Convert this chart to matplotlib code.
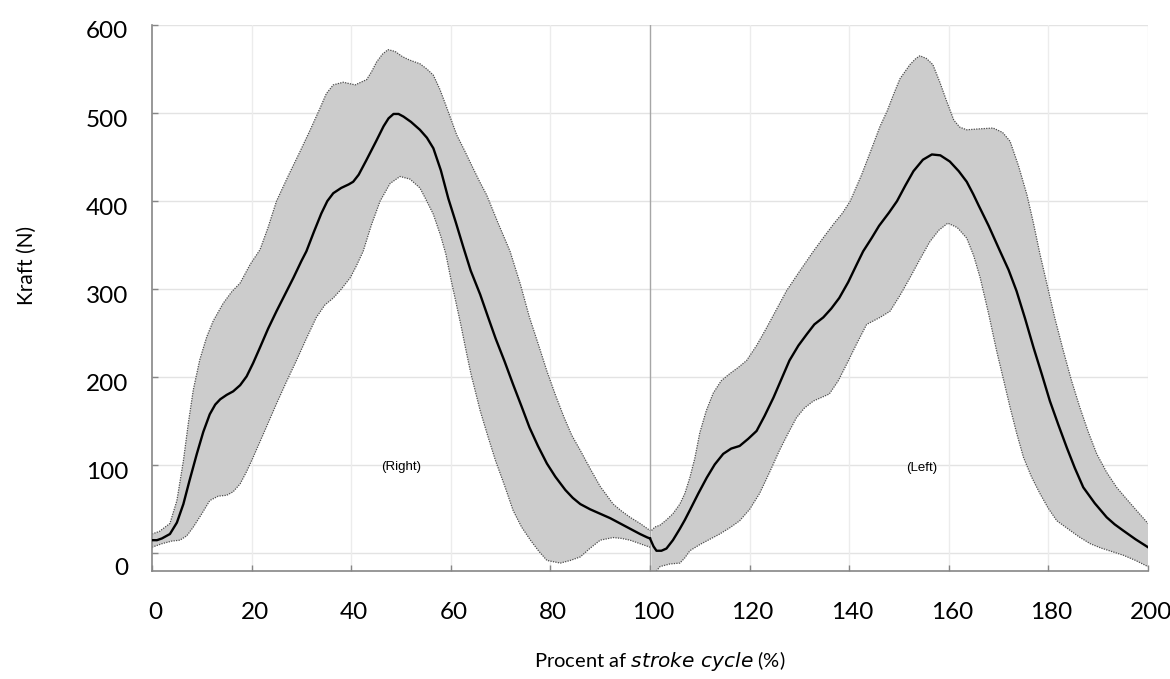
import matplotlib
matplotlib.use("Agg")
import matplotlib.pyplot as plt
import matplotlib.transforms as mtransforms
import numpy as np

# ---------------- data ----------------
# Right stroke (0-100 %)
right_mean_x = [0, 1, 2, 3.6, 5, 6.3, 7.5, 9, 10.3, 11.6, 12.7, 13.7, 15, 16.3, 17.7, 19, 20.3, 21.7, 23.3, 25,
                26.7, 28.4, 30, 31, 32.5, 34, 35.2, 36.4, 38, 39.5, 40.4, 41.5, 43, 44, 45, 46.5, 47.5, 48.5, 49.5,
                50.5, 52, 53.8, 55.2, 56.5, 58, 59.5, 61, 62.5, 64, 65.9, 67.5, 69, 70.8, 72.5, 74.2, 75.8, 77.5,
                79.3, 81, 83, 84.5, 86, 88, 90, 92, 94, 96, 98, 99.5, 100]
right_mean_y = [15, 15, 17, 22, 35, 56, 82, 113, 138, 158, 169, 175, 180, 184, 191, 201, 216, 234, 255, 275,
                294, 313, 332, 343, 365, 386, 400, 409, 415, 419, 422, 430, 446, 457, 468, 485, 494, 499, 499,
                496, 490, 481, 472, 460, 435, 403, 376, 348, 321, 294, 268, 244, 218, 192, 167, 143, 122,
                102, 87, 72, 63, 56, 50, 45, 40, 34, 28, 22, 18, 17]

right_upper_x = [0, 1.5, 3.6, 5, 6.3, 7.3, 8.3, 9.6, 11, 12.3, 14.3, 16, 17.7, 19.7, 21.7, 23.3, 25, 27.3, 29.7,
                 31.7, 33.7, 35, 36.4, 38.4, 40.8, 43.1, 44.1, 45.1, 46.3, 47.4, 48.8, 50.3, 51.8, 53.8, 55.2,
                 56.5, 57.8, 59, 60.1, 61.2, 62.8, 64.5, 65.8, 67.2, 69.5, 71.9, 74, 75.8, 77.6, 79.3, 81, 82.7,
                 84.3, 86, 88, 90, 92.6, 94.3, 96, 98, 100]
right_upper_y = [22, 25, 34, 60, 105, 148, 186, 220, 246, 264, 284, 297, 307, 328, 345, 370, 400, 428, 456,
                 480, 505, 522, 532, 535, 532, 538, 547, 558, 567, 572, 570, 564, 560, 556, 550,
                 543, 527, 509, 492, 475, 457, 437, 422, 407, 375, 343, 305, 268, 237, 207, 180, 155,
                 134, 117, 96, 76, 56, 48, 41, 34, 26]

right_lower_x = [0, 2, 4, 5.6, 7, 8.3, 10, 11.6, 13.3, 15, 16.3, 17.7, 19, 20.3, 22.7, 25, 27, 29, 31, 33, 34.7,
                 36.4, 38, 39.8, 41, 42.4, 44, 45.8, 47.8, 49.8, 51.8, 53.8, 55, 56.5, 58, 59, 60, 61, 62, 63,
                 64, 65.9, 67.5, 69, 70.8, 72.5, 74.2, 76, 77.6, 79.3, 82, 84, 86, 88, 90, 92.6, 94.3, 96, 98,
                 100]
right_lower_y = [7, 11, 14, 15, 20, 30, 45, 60, 65, 66, 70, 79, 93, 109, 140, 170, 195, 219, 244, 268, 282,
                 290, 300, 313, 326, 343, 372, 400, 420, 428, 425, 415, 402, 385, 360, 340, 312, 286, 260, 232,
                 205, 162, 132, 105, 77, 49, 30, 15, 3, -8, -11, -8, -4, 6, 15, 18, 17, 15, 11,
                 7]

# Left stroke (100-200 %)
left_mean_x = [100, 100.7, 101.3, 102.3, 103.3, 104.6, 106, 107, 108, 109.7, 111.4, 113, 114.7, 116.3, 118,
               119.7, 121.4, 123, 124.8, 126.4, 128, 129.8, 131.5, 133, 134.8, 136.4, 138, 139.8, 141.5, 142.8,
               144.5, 146, 148, 149.6, 151.3, 152.9, 154.8, 156.6, 158.3, 160.2, 162, 163.6, 164.9, 166, 168,
               170.3, 172, 173.6, 175.3, 177, 178.7, 180.3, 182, 183.7, 185.3, 187, 189.3, 191.7, 193.3, 195,
               197.5, 200]
left_mean_y = [17, 8, 3, 3, 5.5, 15, 28, 38, 49, 68, 86, 101, 113, 119, 122,
               130, 139, 156, 177, 198, 219, 236, 249, 260, 268, 278, 290, 308, 328, 343,
               358, 372, 387, 400, 418, 434, 447, 453, 452, 445, 434, 422, 408, 395, 372,
               343, 322, 298, 267, 234, 203, 173, 146, 120, 97, 75, 57, 41, 33, 26,
               16, 7]

left_upper_x = [100.3, 101, 102, 103.3, 104.6, 106, 107, 108, 109, 110, 111.3, 112.7, 114.3, 116, 117.7, 119.4,
                121.4, 123.4, 125.4, 127.4, 128.7, 130, 132.8, 135, 137, 138.6, 140.2, 142.5, 144.8, 146.2,
                147.6, 148.9, 150.2, 152.2, 153.4, 154.2, 155.5, 156.8, 158.2, 159.6, 161, 162.2, 163.6, 166,
                168.9, 170.8, 172.3, 174, 175.7, 177, 178.3, 179.7, 181.3, 183, 184.6, 186.3, 188, 189.7,
                191.7, 193.7, 195.5, 197.5, 200]
left_upper_y = [26, 30, 32, 38, 45, 56, 68, 86, 108, 137, 162, 182, 196, 204, 211, 219,
                236, 256, 277, 298, 309, 320, 343, 360, 375, 386, 400, 430, 464, 485,
                502, 521, 539, 555, 562, 565, 562, 555, 535, 513, 492, 484, 481, 482,
                483, 478, 468, 440, 407, 375, 340, 306, 267, 230, 197, 166, 138, 113,
                92, 75, 63, 50, 34]

left_lower_x = [100.3, 101, 102, 104, 106, 107, 108, 110, 112, 114, 116, 118, 120, 122, 124, 126, 127.7, 129.4,
                131, 132.8, 134.4, 136, 137.8, 139.5, 141.5, 143.5, 146.2, 148.2, 150.2, 152.2, 154.2, 156.2,
                158, 159.8, 161.7, 163.6, 165, 166.3, 168, 169.6, 171, 172.3, 173.6, 175, 176.6, 178.3, 180,
                181.7, 183.9, 186.1, 188.4, 190.6, 192.8, 195, 197.5, 200]
left_lower_y = [-30, -22, -15, -12, -11, -5, 3, 10, 16, 22, 29, 37, 50, 68, 92, 117, 136, 154,
                165, 173, 177, 181, 196, 215, 238, 260, 268, 275, 293, 313, 334, 354,
                367, 375, 370, 358, 338, 313, 272, 230, 197, 166, 137, 109, 87, 68, 51,
                37, 28, 19, 11, 6, 2, -2, -8, -15]

x_ticks = [0, 20, 40, 60, 80, 100, 120, 140, 160, 180, 200]
y_ticks = [0, 100, 200, 300, 400, 500, 600]
segment_labels = ["(Right)", "(Left)"]
segment_label_pos = [(50, 98), (154.5, 97)]

# ---------------- drawing ----------------
W, H = 1170, 679
fig = plt.figure(figsize=(W / 100, H / 100), dpi=100)
ax = fig.add_axes([152 / W, 1 - 571 / H, (1148 - 152) / W, (571 - 25) / H])
ax.set_xlim(0, 200)
ax.set_ylim(-20, 600)

tick_font = "Lato"
band_color = "#cccccc"
edge_color = "#4d4d4d"

# grid
for yt in y_ticks:
    ax.axhline(yt, color="#e3e3e3", lw=1.0, zorder=0)
for xt in x_ticks:
    if xt == 0:
        continue
    if xt == 100:
        ax.axvline(xt, color="#a6a6a6", lw=1.0, zorder=0.5)
    else:
        ax.axvline(xt, color="#ececec", lw=1.0, zorder=0)

segments = [
    (right_mean_x, right_mean_y, right_upper_x, right_upper_y, right_lower_x, right_lower_y),
    (left_mean_x, left_mean_y, left_upper_x, left_upper_y, left_lower_x, left_lower_y),
]
for mx, my, ux, uy, lx, ly in segments:
    px = np.concatenate([np.asarray(ux, float), np.asarray(lx, float)[::-1]])
    py = np.concatenate([np.asarray(uy, float), np.asarray(ly, float)[::-1]])
    ax.fill(px, py, color=band_color, lw=0, zorder=1)
    ax.plot(ux, uy, color=edge_color, lw=0.9, ls=(0, (1, 1)), zorder=2)
    ax.plot(lx, ly, color=edge_color, lw=0.9, ls=(0, (1, 1)), zorder=2)
    ax.plot(mx, my, color="black", lw=1.7, zorder=3, solid_joinstyle="round")

for lab, (tx, ty) in zip(segment_labels, segment_label_pos):
    ax.text(tx, ty, lab, ha="center", va="center", fontsize=9.5, family="Liberation Sans", zorder=4)

# spines and ticks
for s in ("top", "right"):
    ax.spines[s].set_visible(False)
for s in ("left", "bottom"):
    ax.spines[s].set_color("#868686")
    ax.spines[s].set_linewidth(1.2)

ax.set_xticks(x_ticks)
ax.set_yticks(y_ticks)
ax.set_xticklabels([str(v) for v in x_ticks], fontsize=17.5, family=tick_font)
ax.set_yticklabels([str(v) for v in y_ticks], fontsize=17.5, family=tick_font)
ax.tick_params(axis="both", direction="in", length=4, color="#868686", width=1)
ax.tick_params(axis="x", pad=22)
ax.tick_params(axis="y", pad=17)

# Excel-style label offsets
for lbl, v in zip(ax.get_yticklabels(), y_ticks):
    dy = 13 if v == 0 else 5
    lbl.set_transform(lbl.get_transform() +
                      mtransforms.ScaledTranslation(0, -dy / 100, fig.dpi_scale_trans))
for lbl in ax.get_xticklabels():
    lbl.set_transform(lbl.get_transform() +
                      mtransforms.ScaledTranslation(3 / 100, 0, fig.dpi_scale_trans))

fig.text(27 / W, 1 - 265 / H, "Kraft (N)", rotation=90, ha="center", va="center",
         fontsize=15, family=tick_font)
fig.text(660 / W, 1 - 661 / H, r"Procent af $\it{stroke\ cycle}$ (%)", ha="center", va="center",
         fontsize=14.5, family=tick_font)

fig.savefig("out.png", dpi=100)
